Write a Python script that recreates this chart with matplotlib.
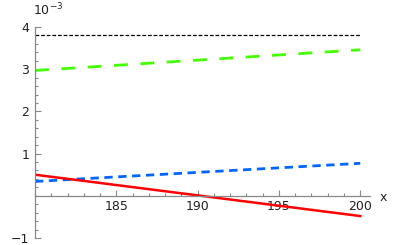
import matplotlib.pyplot as plt
from matplotlib.ticker import MultipleLocator, FixedLocator

# === data (values in units of 1e-3) ===
x_ends = [180, 200]
black_vals = [3.8, 3.8]
green_vals = [2.97, 3.46]
blue_vals = [0.34, 0.77]
red_vals = [0.50, -0.48]

y_ticks = [-1, 1, 2, 3, 4]
y_labels = ["\u22121", "1", "2", "3", "4"]
x_ticks = [185, 190, 195, 200]
x_labels = ["185", "190", "195", "200"]

W, H = 397, 245
fig = plt.figure(figsize=(W / 100, H / 100), dpi=100)
ax = fig.add_axes([35 / W, (H - 238) / H, 335 / W, 211 / H])

# === lines ===
ax.plot(x_ends, black_vals, color="black", lw=0.9, dashes=(3, 1.5))
ax.plot(x_ends, green_vals, color="#44ff00", lw=2.0, dashes=(5, 4.5))
ax.plot(x_ends, blue_vals, color="#0066ff", lw=2.0, dashes=(3, 2))
ax.plot(x_ends, red_vals, color="#ff0000", lw=1.8)

ax.set_xlim(180, 200.6)
ax.set_ylim(-1, 4)

# === axes style (crossing at 180, 0) ===
axcol = "#888888"
for s in ["top", "right"]:
    ax.spines[s].set_visible(False)
ax.spines["left"].set_position(("data", 180))
ax.spines["bottom"].set_position(("data", 0))
ax.spines["left"].set_color(axcol)
ax.spines["bottom"].set_color(axcol)
ax.spines["left"].set_linewidth(0.9)
ax.spines["bottom"].set_linewidth(0.9)

ax.yaxis.set_major_locator(FixedLocator(y_ticks))
ax.set_yticklabels(y_labels)
ax.yaxis.set_minor_locator(MultipleLocator(0.2))
ax.xaxis.set_major_locator(FixedLocator(x_ticks))
ax.set_xticklabels(x_labels)
ax.xaxis.set_minor_locator(MultipleLocator(1))

ax.tick_params(which="both", direction="in", color=axcol, width=0.8,
               labelsize=9, labelcolor="#222222")
ax.tick_params(which="major", length=4)
ax.tick_params(which="minor", length=2)
ax.tick_params(axis="y", pad=4)
ax.tick_params(axis="x", pad=3)

fig.text(33 / W, 1 - 2 / H, r"$10^{-3}$", ha="left", va="top", fontsize=9, color="#222222")
fig.text(383 / W, 1 - 197 / H, "x", ha="center", va="center", fontsize=9, color="#222222")

fig.savefig("out.png", dpi=100)
